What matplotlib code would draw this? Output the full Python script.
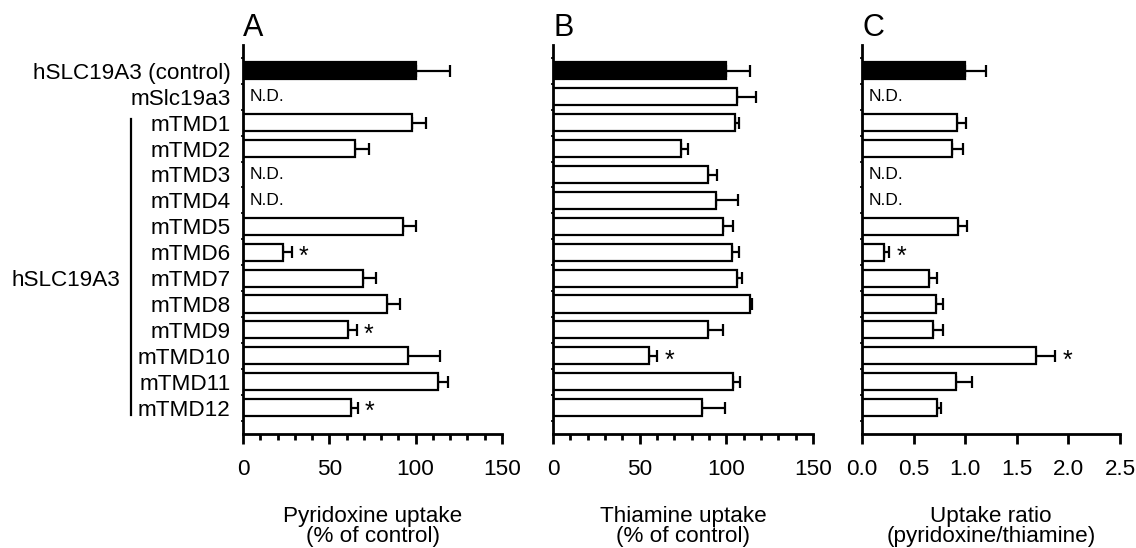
import numpy as np
import matplotlib
matplotlib.use("Agg")
import matplotlib.pyplot as plt
from matplotlib.ticker import MultipleLocator, FixedLocator
import matplotlib.transforms as mtransforms

plt.rcParams['font.family'] = ['Liberation Sans', 'DejaVu Sans']

nan = np.nan
categories = ['hSLC19A3 (control)', 'mSlc19a3', 'mTMD1', 'mTMD2', 'mTMD3', 'mTMD4',
              'mTMD5', 'mTMD6', 'mTMD7', 'mTMD8', 'mTMD9', 'mTMD10', 'mTMD11', 'mTMD12']

pyridoxine = [100, nan, 97.7, 64.9, nan, nan, 92.5, 23.3, 69.3, 83.6, 60.6, 95.7, 113, 62.5]
pyridoxine_sd = [20, nan, 8.3, 8.1, nan, nan, 7.5, 4.9, 7.7, 7.3, 5.2, 18.3, 6, 3.9]
pyridoxine_sig = ['mTMD6', 'mTMD9', 'mTMD12']

thiamine = [100, 106, 105, 73.9, 89.3, 93.9, 97.9, 103.5, 106, 113.7, 89.6, 55.6, 104, 86.2]
thiamine_sd = [13.7, 11, 2.5, 3.8, 5.1, 13.1, 5.8, 3.8, 3, 1.3, 8.7, 4.6, 3.9, 13]
thiamine_sig = ['mTMD10']

ratio = [1.0, nan, 0.924, 0.875, nan, nan, 0.934, 0.213, 0.649, 0.717, 0.685, 1.683, 0.911, 0.723]
ratio_sd = [0.2, nan, 0.081, 0.107, nan, nan, 0.08, 0.049, 0.074, 0.071, 0.103, 0.187, 0.152, 0.042]
ratio_sig = ['mTMD6', 'mTMD10']

panel_letters = ['A', 'B', 'C']
xlabels = ['Pyridoxine uptake\n(% of control)', 'Thiamine uptake\n(% of control)',
           'Uptake ratio\n(pyridoxine/thiamine)']
xlims = [(0, 150), (0, 150), (0, 2.5)]
major_steps = [50, 50, 0.5]
minor_steps = [10, 10, None]
group_label = 'hSLC19A3'

FS = 16.2
LW = 1.6
AST = 18

fig = plt.figure(figsize=(11.36, 5.48), dpi=100)
bottom = (548 - 433.5) / 548
height = (433.5 - 45) / 548
lefts = [243 / 1136, 553 / 1136, 862 / 1136]
widths = [259 / 1136, 260 / 1136, 258 / 1136]

datasets = [(pyridoxine, pyridoxine_sd, pyridoxine_sig),
            (thiamine, thiamine_sd, thiamine_sig),
            (ratio, ratio_sd, ratio_sig)]

n = len(categories)
ypos = np.arange(n)

for i, (vals, sds, sig) in enumerate(datasets):
    ax = fig.add_axes([lefts[i], bottom, widths[i], height])
    vals = np.array(vals, dtype=float)
    sds = np.array(sds, dtype=float)
    colors = ['black'] + ['white'] * (n - 1)
    mask = ~np.isnan(vals)
    ax.barh(ypos[mask], vals[mask], height=0.66, color=np.array(colors)[mask],
            edgecolor='black', linewidth=LW, zorder=2)
    ax.errorbar(vals[mask], ypos[mask],
                xerr=[np.zeros(mask.sum()), sds[mask]],
                fmt='none', ecolor='black', elinewidth=LW, capsize=4,
                capthick=LW, zorder=1)
    # N.D. labels
    for j in np.where(~mask)[0]:
        ax.annotate('N.D.', xy=(0, ypos[j]), xytext=(5, 0), textcoords='offset points',
                    ha='left', va='center', fontsize=12.5)
    # significance
    for name in sig:
        j = categories.index(name)
        ax.annotate('*', xy=(vals[j] + sds[j], ypos[j]), xytext=(8.8, -0.47 * AST),
                    textcoords='offset points', ha='center', va='baseline',
                    fontsize=AST)

    ax.set_xlim(*xlims[i])
    ax.set_ylim(14, -1)
    for s in ['top', 'right']:
        ax.spines[s].set_visible(False)
    for s in ['left', 'bottom']:
        ax.spines[s].set_linewidth(2)
    ax.xaxis.set_major_locator(MultipleLocator(major_steps[i]))
    if minor_steps[i]:
        ax.xaxis.set_minor_locator(MultipleLocator(minor_steps[i]))
    ax.tick_params(axis='x', which='major', length=7.5, width=2, labelsize=FS, pad=11)
    ax.tick_params(axis='x', which='minor', length=4.3, width=2)
    if i == 2:
        ax.xaxis.set_major_formatter(matplotlib.ticker.FormatStrFormatter('%.1f'))

    ax.yaxis.set_minor_locator(FixedLocator(np.arange(-0.5, n, 1.0)))
    ax.tick_params(axis='y', which='minor', length=1.5, width=1.2)
    ax.set_yticks(ypos)
    if i == 0:
        ax.set_yticklabels(categories, fontsize=FS)
        ax.tick_params(axis='y', which='major', length=0, pad=9)
    else:
        ax.set_yticklabels([])
        ax.tick_params(axis='y', which='major', length=0)

    ax.set_xlabel(xlabels[i], fontsize=FS, labelpad=18.5, linespacing=0.95)
    ax.text(0.0, 1.045, panel_letters[i], transform=ax.transAxes, ha='left',
            va='center', fontsize=22)

    if i == 0:
        trans = mtransforms.blended_transform_factory(ax.transAxes, ax.transData)
        ax.plot([-0.432, -0.432], [1.85, 13.3], color='black', lw=1.6,
                transform=trans, clip_on=False)
        ax.text(-0.475, 8, group_label, transform=trans, ha='right',
                va='center_baseline', fontsize=FS)

fig.savefig('out.png', dpi=100)
